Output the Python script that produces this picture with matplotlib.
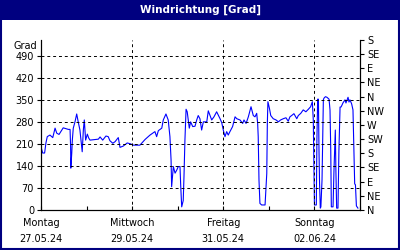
import numpy as np
import matplotlib.pyplot as plt
from matplotlib.transforms import blended_transform_factory

# hours since Montag 27.05.24 00:00, wind direction in degrees
hours = [0, 0.9, 1.9, 2.6, 3.3, 4.7, 6.2, 7.4, 8.3, 9.5, 11.7, 14.4, 15.3, 15.6, 15.7,
         16.2, 16.5, 17.0, 17.9, 18.8, 19.6, 20.5, 21.7, 22.3, 22.8, 23.5, 24.4, 25.1,
         25.8, 30.2, 31.1, 32.5, 34.2, 35.4, 36.3, 37.8, 39.0, 40.7, 41.6, 43.3, 45.4,
         47.2, 48.6, 52.1, 54.8, 57.4, 60.0, 60.9, 61.8, 63.6, 64.4, 65.8, 67.0, 67.9,
         68.5, 68.8, 69.7, 70.6, 71.5, 72.3, 73.2, 73.6, 74.1, 74.9, 75.3, 75.8, 76.4,
         77.0, 78.1, 78.8, 79.9, 81.1, 82.0, 82.8, 83.7, 84.6, 85.5, 87.3, 88.1, 89.0,
         89.9, 91.1, 92.5, 94.3, 95.2, 96.0, 96.9, 97.8, 98.6, 99.5, 100.9, 102.2, 103.1,
         104.8, 106.2, 106.9, 108.0, 109.2, 110.6, 111.8, 112.7, 113.6, 114.1, 114.4,
         114.8, 115.3, 116.2, 118.0, 118.9, 119.2, 119.5, 120.3, 121.0, 122.3, 123.8,
         125.0, 126.2, 127.6, 129.0, 130.2, 131.1, 132.0, 133.2, 134.7, 135.5, 136.8,
         138.1, 139.5, 140.8, 142.0, 142.9, 143.4, 143.8, 144.0, 145.0, 145.3, 145.7,
         146.1, 146.4, 146.7, 147.1, 147.4, 148.0, 148.7, 149.0, 149.8, 150.6, 151.7,
         152.2, 152.6, 152.9, 153.8, 154.3, 155.0, 155.3, 155.7, 156.4, 156.9, 157.5,
         158.0, 158.5, 159.0, 160.1, 160.6, 161.7, 162.2, 162.7, 163.6, 164.3, 164.8,
         165.2, 165.6, 166.1, 166.9]
grad = [200, 181, 181, 213, 233, 238, 230, 260, 244, 240, 261, 256, 256, 201, 133,
        181, 222, 260, 280, 305, 280, 254, 185, 254, 286, 222, 241, 229,
        222, 225, 232, 222, 235, 233, 220, 212, 217, 230, 199, 203, 213,
        210, 206, 206, 224, 238, 249, 233, 252, 260, 286, 305, 286, 233,
        159, 74, 138, 117, 127, 138, 138, 74, 10, 30, 106, 222, 320,
        312, 260, 280, 265, 266, 286, 300, 290, 254, 280, 280, 315, 300,
        286, 296, 312, 290, 277, 254, 233, 249, 238, 249, 265, 296, 290,
        286, 275, 286, 275, 296, 328, 300, 296, 307, 275, 233,
        95, 21, 16, 16, 116, 275, 344, 323, 300, 290, 286,
        280, 286, 290, 293, 282, 296, 300, 306, 290, 300, 307,
        318, 312, 320, 328, 344, 286, 102, 16, 16, 222, 352,
        352, 190, 86, 6, 10, 95, 350, 355, 360, 358, 352,
        318, 190, 10, 10, 127, 254, 127, 6, 6, 190, 327,
        327, 333, 340, 350, 340, 358, 343, 350, 337, 318, 190,
        83, 80, 13, 6]

left_ticks = [0, 70, 140, 210, 280, 350, 420, 490]
compass = ['N', 'NE', 'E', 'SE', 'S', 'SW', 'W', 'NW', 'N', 'NE', 'E', 'SE', 'S']
day_labels = ['Montag\n27.05.24', 'Mittwoch\n29.05.24', 'Freitag\n31.05.24', 'Sonntag\n02.06.24']

navy = '#000080'
plt.rcParams['font.family'] = 'DejaVu Sans'
plt.rcParams['font.size'] = 7

fig = plt.figure(figsize=(4, 2.5), dpi=100)
fig.patch.set_facecolor('white')

# title bar and frame
fig.add_artist(plt.Rectangle((0, 0.92), 1, 0.08, transform=fig.transFigure,
                             facecolor=navy, edgecolor='none'))
fig.add_artist(plt.Rectangle((0.002, 0.003), 0.996, 0.994, transform=fig.transFigure,
                             facecolor='none', edgecolor=navy, linewidth=1.5))
fig.text(0.5, 0.96, 'Windrichtung [Grad]', color='white', fontweight='bold',
         ha='center', va='center', fontsize=7.5)

ax = fig.add_axes([0.1025, 0.16, 0.7975, 0.68])
ax.plot(hours, grad, color='#0000ff', linewidth=0.8)
ax.set_xlim(0, 168)
ax.set_ylim(0, 540)

ax.set_yticks(left_ticks)
ax.set_xticks([0, 48, 96, 144])
ax.set_xticklabels(day_labels, linespacing=1.7)
ax.set_xticks(np.arange(0, 169, 24), minor=True)
ax.tick_params(axis='x', which='both', direction='in', length=3, width=0.8, pad=6)
ax.tick_params(axis='y', direction='out', length=3, width=0.8, pad=2)

for v in left_ticks[1:]:
    ax.axhline(v, color='black', linewidth=0.7, linestyle=(0, (3, 3)))
for h in [48, 96, 144]:
    ax.axvline(h, color='black', linewidth=0.7, linestyle=(0, (3, 3)))

ax.spines['top'].set_visible(False)
for s in ['left', 'right', 'bottom']:
    ax.spines[s].set_linewidth(0.8)

tr = blended_transform_factory(ax.transAxes, ax.transData)
ax.text(-0.012, 522, 'Grad', transform=tr, ha='right', va='center')

ax2 = ax.twinx()
ax2.set_ylim(0, 540)
ax2.set_yticks(np.arange(0, 541, 45))
ax2.set_yticklabels(compass)
ax2.tick_params(axis='y', direction='out', length=3, width=0.8, pad=2)
ax2.spines['top'].set_visible(False)
ax2.spines['right'].set_linewidth(0.8)

fig.savefig('out.png', dpi=100)
